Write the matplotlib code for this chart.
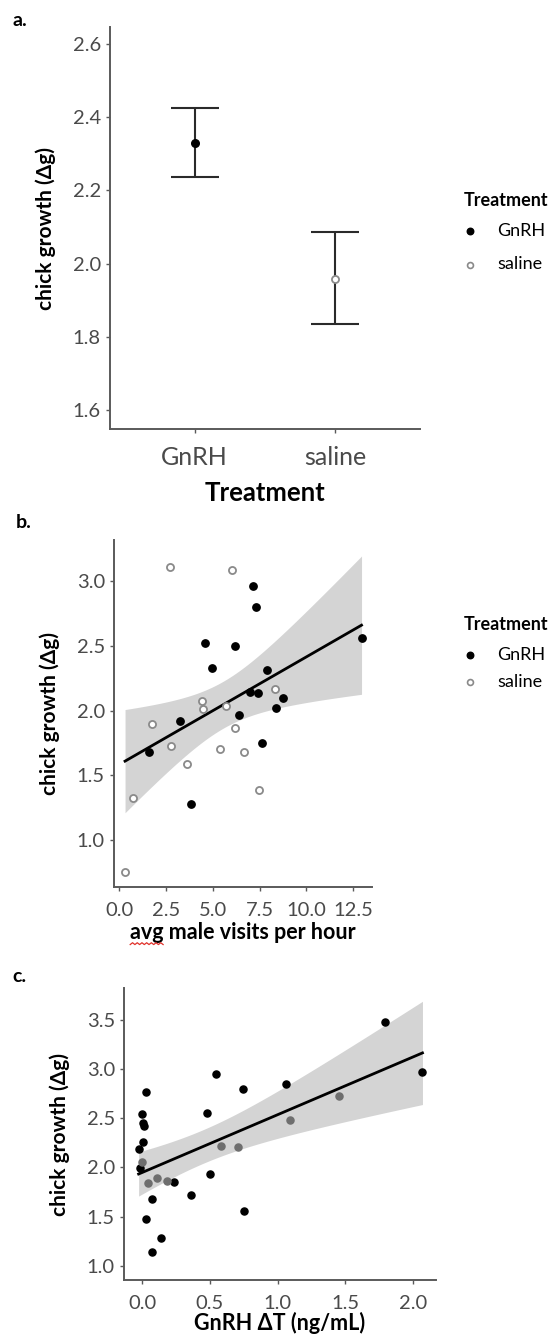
import numpy as np
import matplotlib
matplotlib.use("Agg")
import matplotlib.pyplot as plt
from matplotlib.lines import Line2D

plt.rcParams['font.family'] = ['Lato', 'DejaVu Sans']

# ----------------------------------------------------------
# data
# ----------------------------------------------------------
# a. mean chick growth per treatment with error bars
treatments = ["GnRH", "saline"]
mean_growth = [2.329, 1.958]
err_low = [2.235, 1.835]
err_high = [2.424, 2.085]

# b. growth vs avg male visits per hour
visits_gnrh = [1.58, 3.27, 4.59, 4.96, 3.82, 6.17, 6.39, 7.14, 7.33, 7.01,
               7.42, 7.89, 7.65, 8.40, 8.74, 12.95]
growth_gnrh = [1.684, 1.917, 2.525, 2.328, 1.276, 2.50, 1.969, 2.965, 2.80, 2.142,
               2.134, 2.318, 1.749, 2.023, 2.10, 2.564]
visits_saline = [2.71, 6.03, 1.75, 2.76, 3.63, 0.71, 4.45, 4.49, 5.70, 6.20,
                 5.36, 6.69, 7.46, 8.31, 0.31]
growth_saline = [3.109, 3.089, 1.894, 1.723, 1.589, 1.328, 2.072, 2.013, 2.034, 1.866,
                 1.70, 1.677, 1.385, 2.166, 0.755]

# c. growth vs GnRH-induced change in testosterone
dt_black = [1.79, 2.07, 1.06, 0.545, 0.745, 0.475, 0.50, 0.357, 0.748, 0.236,
            0.028, 0.0, 0.007, 0.015, 0.003, -0.027, -0.017, 0.069, 0.027, 0.136, 0.069]
growth_black = [3.48, 2.965, 2.85, 2.95, 2.80, 2.55, 1.935, 1.725, 1.56, 1.85,
                2.76, 2.537, 2.45, 2.425, 2.258, 2.187, 1.994, 1.681, 1.48, 1.281, 1.138]
dt_gray = [1.454, 1.09, 0.58, 0.709, 0.04, 0.108, 0.18, -0.004]
growth_gray = [2.72, 2.486, 2.22, 2.203, 1.847, 1.892, 1.858, 2.05]

AXIS_GRAY = "#5a5a5a"
TICK_TEXT = "#4a4a4a"
OPEN_GRAY = "#8a8a8a"
TICK_SIZE = 14.5
YLAB_SIZE = 15


def lm_band(x, y, n=80):
    """OLS fit with 95% confidence band, like geom_smooth(method='lm')."""
    x = np.asarray(x, float)
    y = np.asarray(y, float)
    slope, icept = np.polyfit(x, y, 1)
    xs = np.linspace(x.min(), x.max(), n)
    fit = icept + slope * xs
    resid = y - (icept + slope * x)
    dof = len(x) - 2
    s = np.sqrt(np.sum(resid ** 2) / dof)
    se = s * np.sqrt(1 / len(x) + (xs - x.mean()) ** 2 / np.sum((x - x.mean()) ** 2))
    t = 2.045  # ~t(0.975, 29)
    return xs, fit, fit - t * se, fit + t * se


def style_axes(ax):
    for side in ["top", "right"]:
        ax.spines[side].set_visible(False)
    for side in ["left", "bottom"]:
        ax.spines[side].set_color(AXIS_GRAY)
        ax.spines[side].set_linewidth(1.4)
    ax.tick_params(colors=AXIS_GRAY, length=3, width=1, labelcolor=TICK_TEXT,
                   labelsize=TICK_SIZE)


def add_legend(ax, anchor, spacing):
    h1 = ax.scatter([], [], s=22, color="black", label="GnRH")
    h2 = ax.scatter([], [], s=18, facecolor="white", edgecolor=OPEN_GRAY,
                    linewidth=1.2, label="saline")
    leg = fig.legend(handles=[h1, h2], loc="upper left", bbox_to_anchor=anchor,
                     frameon=False, title="Treatment", fontsize=13,
                     title_fontproperties={"weight": "bold", "size": 13},
                     handlelength=0.8, handletextpad=1.1, labelspacing=spacing)
    leg._legend_box.align = "left"
    leg._legend_box.sep = 10


W, H = 550, 1337
fig = plt.figure(figsize=(W / 100, H / 100), dpi=100)


def box(left, right, top, bottom):
    return [left / W, 1 - bottom / H, (right - left) / W, (bottom - top) / H]


# ----------------------------------------------------------
# a. mean +/- error
# ----------------------------------------------------------
ax_a = fig.add_axes(box(110, 420, 27, 429))
pos = np.arange(1, len(treatments) + 1)
yerr = [np.array(mean_growth) - np.array(err_low),
        np.array(err_high) - np.array(mean_growth)]
ax_a.errorbar(pos, mean_growth, yerr=yerr, fmt="none", ecolor="#2a2a2a",
              elinewidth=1.5, capsize=17, capthick=1.5)
ax_a.scatter(pos[0], mean_growth[0], s=30, color="black", zorder=3)
ax_a.scatter(pos[1], mean_growth[1], s=26, facecolor="white", edgecolor=OPEN_GRAY,
             linewidth=1.3, zorder=3)
ax_a.set_xlim(0.4, 2.6)
ax_a.set_ylim(1.548, 2.646)
ax_a.set_xticks(pos)
ax_a.set_xticklabels(treatments)
ax_a.set_yticks([1.6, 1.8, 2.0, 2.2, 2.4, 2.6])
ax_a.set_yticklabels(["1.6", "1.8", "2.0", "2.2", "2.4", "2.6"])
style_axes(ax_a)
ax_a.tick_params(axis="x", labelsize=18, pad=9)
ax_a.set_xlabel("Treatment", fontsize=18.5, fontweight="bold", labelpad=9)
ax_a.set_ylabel("chick growth (Δg)", fontsize=YLAB_SIZE, fontweight="bold", labelpad=12)
add_legend(ax_a, (447 / W, 1 - 176 / H), 0.95)

# ----------------------------------------------------------
# b. visits scatter with lm fit
# ----------------------------------------------------------
ax_b = fig.add_axes(box(114, 372, 540, 887))
all_v = visits_gnrh + visits_saline
all_g = growth_gnrh + growth_saline
xs, fit, lo, hi = lm_band(all_v, all_g)
ax_b.fill_between(xs, lo, hi, color="#d4d4d4", lw=0, zorder=1)
ax_b.plot(xs, fit, color="black", lw=2, zorder=2)
ax_b.scatter(visits_gnrh, growth_gnrh, s=28, color="black", zorder=3)
ax_b.scatter(visits_saline, growth_saline, s=26, facecolor="white",
             edgecolor=OPEN_GRAY, linewidth=1.3, zorder=3)
ax_b.set_xlim(-0.28, 13.51)
ax_b.set_ylim(0.636, 3.32)
ax_b.set_xticks([0, 2.5, 5, 7.5, 10, 12.5])
ax_b.set_xticklabels(["0.0", "2.5", "5.0", "7.5", "10.0", "12.5"])
ax_b.set_yticks([1.0, 1.5, 2.0, 2.5, 3.0])
ax_b.set_yticklabels(["1.0", "1.5", "2.0", "2.5", "3.0"])
style_axes(ax_b)
ax_b.tick_params(axis="x", pad=8)
ax_b.set_xlabel("avg male visits per hour", fontsize=15.5, fontweight="bold", labelpad=2)
ax_b.set_ylabel("chick growth (Δg)", fontsize=YLAB_SIZE, fontweight="bold", labelpad=12)
add_legend(ax_b, (447 / W, 1 - 600 / H), 0.6)

# ----------------------------------------------------------
# c. GnRH delta T scatter with lm fit
# ----------------------------------------------------------
ax_c = fig.add_axes(box(124, 436, 988, 1280))
all_dt = dt_black + dt_gray
all_gc = growth_black + growth_gray
xs, fit, lo, hi = lm_band(all_dt, all_gc)
ax_c.fill_between(xs, lo, hi, color="#d4d4d4", lw=0, zorder=1)
ax_c.plot(xs, fit, color="black", lw=2, zorder=2)
ax_c.scatter(dt_black, growth_black, s=26, color="black", zorder=3)
ax_c.scatter(dt_gray, growth_gray, s=26, color="#6e6e6e", zorder=3)
ax_c.set_xlim(-0.135, 2.17)
ax_c.set_ylim(0.858, 3.82)
ax_c.set_xticks([0, 0.5, 1.0, 1.5, 2.0])
ax_c.set_xticklabels(["0.0", "0.5", "1.0", "1.5", "2.0"])
ax_c.set_yticks([1.0, 1.5, 2.0, 2.5, 3.0, 3.5])
ax_c.set_yticklabels(["1.0", "1.5", "2.0", "2.5", "3.0", "3.5"])
style_axes(ax_c)
ax_c.tick_params(axis="x", pad=8)
ax_c.set_xlabel("GnRH ΔT (ng/mL)", fontsize=15.5, fontweight="bold", labelpad=0)
ax_c.set_ylabel("chick growth (Δg)", fontsize=YLAB_SIZE, fontweight="bold", labelpad=12)

# panel letters
fig.text(12 / W, 1 - 20 / H, "a.", fontsize=14, fontweight="bold", va="center")
fig.text(16 / W, 1 - 522 / H, "b.", fontsize=14, fontweight="bold", va="center")
fig.text(12 / W, 1 - 977 / H, "c.", fontsize=14, fontweight="bold", va="center")

# red spell-check squiggle under "avg" in the panel b label
fig.canvas.draw()
renderer = fig.canvas.get_renderer()
lab = ax_b.xaxis.label
full = lab.get_window_extent(renderer)
probe = fig.text(0, 0, "avg ", fontsize=15.5, fontweight="bold")
w_avg = probe.get_window_extent(renderer).width
probe.remove()
n_zig = 14
zx = np.linspace(full.x0, full.x0 + w_avg * 0.85, n_zig + 1)
zy = full.y0 - 1.5 + np.where(np.arange(n_zig + 1) % 2 == 0, 0.0, 1.8)
fig.add_artist(Line2D(zx / fig.bbox.width, zy / fig.bbox.height,
                      transform=fig.transFigure, color="#e0302a", lw=0.9))

fig.savefig("out.png", dpi=100, facecolor="white")
